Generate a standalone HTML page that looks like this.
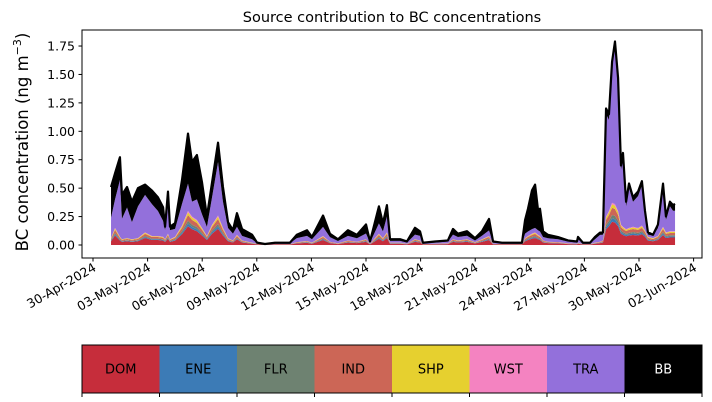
<!DOCTYPE html>
<html><head><meta charset="utf-8"><style>
body{margin:0;background:#fff;}
svg{display:block;font-family:"DejaVu Sans","Liberation Sans",sans-serif;}
</style></head><body>
<svg id="chart" width="712" height="402" viewBox="0 0 712 402" xmlns="http://www.w3.org/2000/svg">
<text x="392" y="22" font-size="14.5" text-anchor="middle">Source contribution to BC concentrations</text>
<text transform="translate(28,142) rotate(-90)" font-size="16.5" text-anchor="middle">BC concentration (ng m<tspan font-size="11" dy="-7">−3</tspan><tspan dy="7">)</tspan></text>
<g id="areas"></g>
<g id="yaxis"></g>
<g id="xaxis"></g>
<rect x="82" y="30" width="620" height="228" fill="none" stroke="#000" stroke-width="1"/>
<g id="legend"></g>
</svg>
<script>
const days=[0.99,1.21,1.48,1.59,1.87,2.14,2.47,2.86,3.24,3.57,3.85,3.96,4.12,4.23,4.51,4.89,5.22,5.44,5.71,5.99,6.26,6.54,6.87,7.14,7.42,7.69,7.91,8.19,8.74,9.01,9.45,10.0,10.82,11.2,11.76,12.03,12.64,13.02,13.46,14.01,14.5,15.0,15.22,15.71,15.93,16.15,16.32,16.87,17.25,17.69,17.97,18.13,18.79,19.5,19.78,20.05,20.55,20.99,21.37,21.76,21.98,22.47,23.57,23.74,23.9,24.12,24.29,24.45,24.56,24.73,25.0,25.55,26.1,26.59,26.65,26.92,27.31,27.58,27.86,28.02,28.19,28.35,28.52,28.68,28.85,29.01,29.12,29.29,29.45,29.67,29.95,30.16,30.33,30.49,30.77,31.04,31.32,31.48,31.7,31.87,31.98];
const DOM=[.033,.083,.039,.028,.033,.028,.033,.061,.044,.044,.039,.028,.055,.028,.039,.094,.165,.138,.121,.083,.044,.099,.143,.083,.033,.022,.05,.022,.011,.006,.002,.004,.004,.014,.019,.011,.044,.017,.008,.022,.017,.028,.006,.055,.033,.061,.011,.011,.006,.028,.022,.004,.006,.008,.028,.022,.028,.014,.028,.044,.006,.004,.004,.033,.044,.055,.061,.05,.044,.022,.017,.014,.008,.006,.011,.004,.004,.011,.017,.022,.138,.165,.204,.198,.165,.099,.088,.077,.083,.088,.083,.094,.072,.039,.033,.044,.088,.061,.066,.066,.066];
const ENE=[.005,.012,.006,.004,.005,.004,.005,.009,.006,.006,.006,.004,.008,.004,.006,.014,.024,.02,.018,.012,.006,.014,.021,.012,.005,.003,.007,.003,.002,.001,0,.001,.001,.002,.003,.002,.006,.002,.001,.003,.002,.004,.001,.008,.005,.009,.002,.002,.001,.004,.003,.001,.001,.001,.004,.003,.004,.002,.004,.006,.001,.001,.001,.005,.006,.008,.009,.007,.006,.003,.002,.002,.001,.001,.002,.001,.001,.002,.002,.003,.02,.024,.03,.029,.024,.014,.013,.011,.012,.013,.012,.014,.01,.006,.005,.006,.013,.009,.01,.01,.01];
const FLR=[.005,.012,.006,.004,.005,.004,.005,.009,.006,.006,.006,.004,.008,.004,.006,.014,.024,.02,.018,.012,.006,.014,.021,.012,.005,.003,.007,.003,.002,.001,0,.001,.001,.002,.003,.002,.006,.002,.001,.003,.002,.004,.001,.008,.005,.009,.002,.002,.001,.004,.003,.001,.001,.001,.004,.003,.004,.002,.004,.006,.001,.001,.001,.005,.006,.008,.009,.007,.006,.003,.002,.002,.001,.001,.002,.001,.001,.002,.002,.003,.02,.024,.03,.029,.024,.014,.013,.011,.012,.013,.012,.014,.01,.006,.005,.006,.013,.009,.01,.01,.01];
const IND=[.01,.026,.012,.009,.01,.009,.01,.019,.014,.014,.012,.009,.017,.009,.012,.029,.051,.043,.037,.026,.014,.031,.044,.026,.01,.007,.015,.007,.003,.002,.001,.001,.001,.004,.006,.003,.014,.005,.003,.007,.005,.009,.002,.017,.01,.019,.003,.003,.002,.009,.007,.001,.002,.003,.009,.007,.009,.004,.009,.014,.002,.001,.001,.01,.014,.017,.019,.015,.014,.007,.005,.004,.003,.002,.003,.001,.001,.003,.005,.007,.043,.051,.063,.061,.051,.031,.027,.024,.026,.027,.026,.029,.022,.012,.01,.014,.027,.019,.02,.02,.02];
const SHP=[.005,.012,.006,.004,.005,.004,.005,.009,.006,.006,.006,.004,.008,.004,.006,.014,.024,.02,.018,.012,.006,.014,.021,.012,.005,.003,.007,.003,.002,.001,0,.001,.001,.002,.003,.002,.006,.002,.001,.003,.002,.004,.001,.008,.005,.009,.002,.002,.001,.004,.003,.001,.001,.001,.004,.003,.004,.002,.004,.006,.001,.001,.001,.005,.006,.008,.009,.007,.006,.003,.002,.002,.001,.001,.002,.001,.001,.002,.002,.003,.02,.024,.03,.029,.024,.014,.013,.011,.012,.013,.012,.014,.01,.006,.005,.006,.013,.009,.01,.01,.01];
const WST=[.002,.006,.003,.002,.002,.002,.002,.004,.003,.003,.003,.002,.004,.002,.003,.007,.012,.01,.009,.006,.003,.007,.01,.006,.002,.002,.004,.002,.001,0,0,0,0,.001,.001,.001,.003,.001,.001,.002,.001,.002,0,.004,.002,.004,.001,.001,0,.002,.002,0,0,.001,.002,.002,.002,.001,.002,.003,0,0,0,.002,.003,.004,.004,.004,.003,.002,.001,.001,.001,0,.001,0,0,.001,.001,.002,.01,.012,.015,.014,.012,.007,.006,.006,.006,.006,.006,.007,.005,.003,.002,.003,.006,.004,.005,.005,.005];
const TRA=[.18,.25,.50,.18,.27,.15,.28,.33,.28,.22,.14,.08,.23,.08,.07,.19,.24,.13,.18,.12,.08,.24,.47,.23,.09,.06,.07,.04,.03,.005,.003,.007,.007,.035,.045,.03,.08,.04,.02,.04,.03,.05,.01,.09,.06,.14,.015,.015,.01,.04,.04,.007,.01,.015,.04,.03,.03,.015,.03,.05,.01,.007,.007,.04,.04,.04,.04,.04,.04,.03,.03,.025,.015,.01,.03,.007,.007,.03,.06,.05,.90,.80,1.19,1.38,1.12,.48,.61,.20,.35,.22,.28,.35,.14,.02,.02,.07,.34,.11,.22,.18,.18];
const BB=[.27,.23,.20,.21,.18,.18,.16,.09,.12,.12,.12,.03,.14,.03,.05,.21,.44,.35,.39,.28,.09,.13,.17,.13,.05,.03,.12,.06,.04,.005,.003,.005,.005,.03,.05,.02,.10,.03,.015,.05,.03,.08,.01,.15,.07,.10,.015,.015,.01,.06,.04,.005,.01,.01,.05,.03,.04,.02,.04,.10,.01,.005,.005,.12,.20,.34,.38,.18,.20,.05,.03,.02,.01,.01,.02,.005,.005,.02,.02,.02,.05,.05,.05,.05,.05,.04,.04,.04,.04,.04,.04,.04,.03,.02,.01,.03,.04,.03,.04,.05,.06];
const seriesNames=["DOM","ENE","FLR","IND","SHP","WST","TRA","BB"];
const yTicks=[0,0.25,0.5,0.75,1.0,1.25,1.5,1.75];
const xTickDays=[0,3,6,9,12,15,18,21,24,27,30,33];
const xTickLabels=["30-Apr-2024","03-May-2024","06-May-2024","09-May-2024","12-May-2024","15-May-2024","18-May-2024","21-May-2024","24-May-2024","27-May-2024","30-May-2024","02-Jun-2024"];

const NS="http://www.w3.org/2000/svg";
const colors=["#c62d3b","#3c7bb6","#6e8271","#cc6656","#e6d02f","#f483c1","#9370db","#000000"];
const X=d=>93+d*18.2;
const Y=v=>245-v*113.7;
function mk(tag,attrs,parent){const e=document.createElementNS(NS,tag);for(const k in attrs)e.setAttribute(k,attrs[k]);parent.appendChild(e);return e;}
const all=[DOM,ENE,FLR,IND,SHP,WST,TRA,BB];
const n=Math.min(days.length,...all.map(a=>a.length));
const areas=document.getElementById('areas');
let base=new Array(n).fill(0);
all.forEach((s,si)=>{
  const top=base.map((b,i)=>b+s[i]);
  let d="M"+X(days[0])+","+Y(top[0]);
  for(let i=1;i<n;i++)d+="L"+X(days[i]).toFixed(2)+","+Y(top[i]).toFixed(2);
  for(let i=n-1;i>=0;i--)d+="L"+X(days[i]).toFixed(2)+","+Y(base[i]).toFixed(2);
  d+="Z";
  const p=mk('path',{d:d,fill:colors[si],stroke:'none'},areas);
  
  
  base=top;
});
let ld="M"+X(days[0])+","+Y(base[0]);
for(let i=1;i<n;i++)ld+="L"+X(days[i]).toFixed(2)+","+Y(base[i]).toFixed(2);
const tl=mk('path',{d:ld,fill:'none',stroke:'#000','stroke-width':2.2,'stroke-linejoin':'round'},areas);



const ya=document.getElementById('yaxis');
yTicks.forEach(v=>{
  const t=mk('line',{x1:78.5,x2:82,y1:Y(v),y2:Y(v),stroke:'#000'},ya);
  
  
  const l=mk('text',{x:75,y:Y(v)+4.5,'font-size':12.5,'text-anchor':'end'},ya);
  l.textContent=v.toFixed(2);
  
  
});
const xa=document.getElementById('xaxis');
xTickDays.forEach((d,i)=>{
  const t=mk('line',{x1:X(d),x2:X(d),y1:258,y2:261.5,stroke:'#000'},xa);
  
  
  const l=mk('text',{transform:`translate(${X(d)+4},${270}) rotate(-30)`,'font-size':12.5,'text-anchor':'end'},xa);
  l.textContent=xTickLabels[i];
  
  
});
const lg=document.getElementById('legend');
const w=620/8;
seriesNames.forEach((nm,i)=>{
  const r=mk('rect',{x:82+i*w,y:345,width:w+0.5,height:48,fill:colors[i]},lg);
  
  
  const t=mk('text',{x:82+i*w+w/2,y:373.5,'font-size':13,'text-anchor':'middle',fill:i==7?'#fff':'#000'},lg);
  t.textContent=nm;
  
  
});
const fr=mk('rect',{x:82,y:345,width:620,height:48,fill:'none',stroke:'#000'},lg);


for(let i=0;i<=8;i++){
  const t=mk('line',{x1:82+i*w,x2:82+i*w,y1:393,y2:397,stroke:'#000'},lg);
  
  
}
</script>
</body></html>
